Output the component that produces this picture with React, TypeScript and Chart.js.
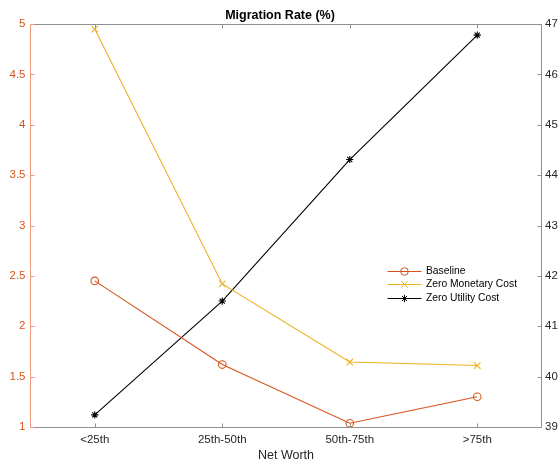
import React, { useEffect, useRef } from "react";
import { Chart, registerables } from "chart.js";

Chart.register(...registerables);

// Net worth quartile groups on the x axis
const categories = ["<25th", "25th-50th", "50th-75th", ">75th"];

// Migration rates (%), left axis
const baseline = [2.45, 1.62, 1.037, 1.3];
const zeroMonetaryCost = [4.95, 2.42, 1.645, 1.61];

// Migration rate (%), right axis
const zeroUtilityCost = [39.24, 41.5, 44.31, 46.78];

// Tick values for both y axes
const leftTicks = [1, 1.5, 2, 2.5, 3, 3.5, 4, 4.5, 5];
const rightTicks = [39, 40, 41, 42, 43, 44, 45, 46, 47];

const seriesNames = ["Baseline", "Zero Monetary Cost", "Zero Utility Cost"];

const ORANGE = "#D95319";
const YELLOW = "#EDB120";
const BLACK = "#000000";
const TEXT = "#262626";
const FRAME = "#8f8f8f";
const LEFT_AXIS = "#EC9C78";
const FONT = "'Liberation Sans', Arial, Helvetica, sans-serif";

const seriesColors = [ORANGE, YELLOW, BLACK];
const seriesMarkers = ["circle", "crossRot", "star"];
const markerRadius = [3.8, 4.6, 3.6];

function strokeMarker(
  ctx: CanvasRenderingContext2D,
  style: string,
  x: number,
  y: number,
  r: number,
  color: string
) {
  ctx.save();
  ctx.strokeStyle = color;
  ctx.lineWidth = 1;
  ctx.beginPath();
  if (style === "circle") {
    ctx.arc(x, y, r, 0, Math.PI * 2);
  } else {
    const d = Math.cos(Math.PI / 4) * r;
    ctx.moveTo(x - d, y - d);
    ctx.lineTo(x + d, y + d);
    ctx.moveTo(x - d, y + d);
    ctx.lineTo(x + d, y - d);
    if (style === "star") {
      ctx.moveTo(x - r, y);
      ctx.lineTo(x + r, y);
      ctx.moveTo(x, y - r);
      ctx.lineTo(x, y + r);
    }
  }
  ctx.stroke();
  ctx.restore();
}

// Box, inward tick marks and the in-plot legend
const framePlugin = {
  id: "frame",
  afterDatasetsDraw(chart: any) {
    const { ctx, chartArea, scales } = chart;
    const { left, right, top, bottom } = chartArea;
    const L = Math.round(left) - 0.5;
    const R = Math.round(right) + 0.5;
    const T = Math.round(top) + 0.5;
    const B = Math.round(bottom) + 0.5;
    const tick = 4;
    ctx.save();
    ctx.lineWidth = 1;

    ctx.strokeStyle = FRAME;
    ctx.beginPath();
    ctx.moveTo(L, T);
    ctx.lineTo(R, T);
    ctx.moveTo(L, B);
    ctx.lineTo(R, B);
    ctx.moveTo(R, T);
    ctx.lineTo(R, B);
    categories.forEach((_, i) => {
      const x = Math.round(scales.x.getPixelForValue(i)) + 0.5;
      ctx.moveTo(x, B);
      ctx.lineTo(x, B - tick);
      ctx.moveTo(x, T);
      ctx.lineTo(x, T + tick);
    });
    rightTicks.forEach((v) => {
      const y = Math.round(scales.y1.getPixelForValue(v)) + 0.5;
      ctx.moveTo(R, y);
      ctx.lineTo(R - tick, y);
    });
    ctx.stroke();

    ctx.strokeStyle = LEFT_AXIS;
    ctx.beginPath();
    ctx.moveTo(L, T);
    ctx.lineTo(L, B);
    leftTicks.forEach((v) => {
      const y = Math.round(scales.y.getPixelForValue(v)) + 0.5;
      ctx.moveTo(L, y);
      ctx.lineTo(L + tick, y);
    });
    ctx.stroke();

    // legend
    const lx0 = right - 153.5;
    const lx1 = right - 119.5;
    const tx = right - 115;
    const y0 = top + 247;
    const rowGap = 13.3;
    ctx.font = `10.3px ${FONT}`;
    ctx.textBaseline = "middle";
    ctx.textAlign = "left";
    seriesNames.forEach((name, i) => {
      const y = Math.round(y0 + i * rowGap) + 0.5;
      ctx.strokeStyle = seriesColors[i];
      ctx.beginPath();
      ctx.moveTo(lx0, y);
      ctx.lineTo(lx1, y);
      ctx.stroke();
      strokeMarker(ctx, seriesMarkers[i], (lx0 + lx1) / 2, y, markerRadius[i], seriesColors[i]);
      ctx.fillStyle = "#000000";
      ctx.fillText(name, tx, y);
    });
    ctx.restore();
  },
};

const plainNumber = (v: any) => String(Number(v));

export default function App() {
  const canvasRef = useRef<HTMLCanvasElement | null>(null);

  useEffect(() => {
    const canvas = canvasRef.current;
    if (!canvas) return;

    const seriesData = [baseline, zeroMonetaryCost, zeroUtilityCost];
    const datasets = seriesData.map((data, i) => ({
      label: seriesNames[i],
      data,
      yAxisID: i === 2 ? "y1" : "y",
      borderColor: seriesColors[i],
      backgroundColor: "rgba(0,0,0,0)",
      borderWidth: 1.1,
      pointStyle: seriesMarkers[i] as any,
      pointRadius: markerRadius[i],
      pointBorderWidth: 1.1,
      pointBorderColor: seriesColors[i],
      pointBackgroundColor: "rgba(0,0,0,0)",
      tension: 0,
      fill: false,
      clip: false as any,
    }));

    const chart = new Chart(canvas, {
      type: "line",
      data: { labels: categories, datasets },
      options: {
        animation: false,
        responsive: false,
        devicePixelRatio: 1,
        layout: { padding: 0 },
        plugins: {
          legend: { display: false },
          tooltip: { enabled: false },
          title: {
            display: true,
            text: "Migration Rate (%)",
            color: "#000000",
            font: { family: FONT, size: 12.5, weight: "bold" },
            padding: { top: 8.5, bottom: 0.5 },
          },
        },
        scales: {
          x: {
            type: "category",
            offset: true,
            grid: { display: false, drawTicks: false },
            border: { display: false },
            ticks: {
              color: TEXT,
              font: { family: FONT, size: 11.5 },
              padding: 6,
              maxRotation: 0,
            },
            title: {
              display: true,
              text: "Net Worth",
              color: TEXT,
              font: { family: FONT, size: 12.5 },
              padding: { top: 0, bottom: 2.8 },
            },
            afterFit: (s: any) => {
              s.height = 39;
            },
          },
          y: {
            position: "left",
            min: 1,
            max: 5,
            grid: { display: false, drawTicks: false },
            border: { display: false },
            ticks: {
              color: ORANGE,
              font: { family: FONT, size: 11.5 },
              padding: 5.5,
              callback: plainNumber,
            },
            afterBuildTicks: (s: any) => {
              s.ticks = leftTicks.map((v) => ({ value: v }));
            },
            afterFit: (s: any) => {
              s.width = 31;
            },
          },
          y1: {
            position: "right",
            min: 39,
            max: 47,
            grid: { display: false, drawTicks: false },
            border: { display: false },
            ticks: {
              color: TEXT,
              font: { family: FONT, size: 11.5 },
              padding: 4,
              callback: plainNumber,
            },
            afterBuildTicks: (s: any) => {
              s.ticks = rightTicks.map((v) => ({ value: v }));
            },
            afterFit: (s: any) => {
              s.width = 19;
            },
          },
        },
      },
      plugins: [framePlugin],
    });

    return () => chart.destroy();
  }, []);

  return (
    <div style={{ position: "absolute", left: 0, top: 0, width: 560, height: 466, background: "#ffffff" }}>
      <canvas ref={canvasRef} width={560} height={466} style={{ display: "block" }} />
    </div>
  );
}
